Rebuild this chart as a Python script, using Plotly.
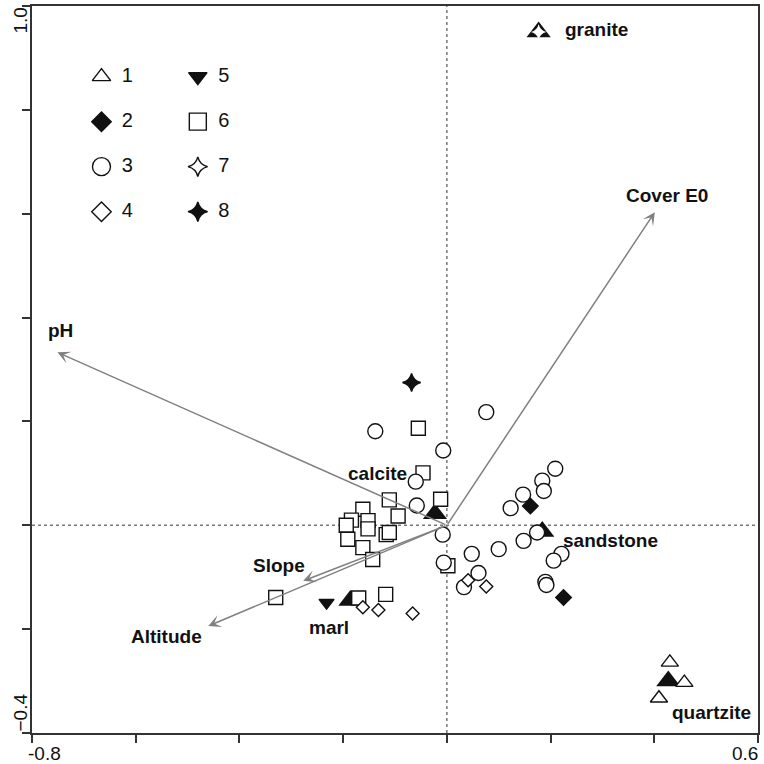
import plotly.graph_objects as go

# ---------------- data ----------------
type_labels = ["1", "2", "3", "4", "5", "6", "7", "8"]

t1_x = [0.430, 0.458, 0.409]
t1_y = [-0.264, -0.303, -0.333]
t2_x = [0.161, 0.225]
t2_y = [0.037, -0.139]
t3_x = [0.076, -0.138, -0.007, -0.060, -0.058, -0.008, -0.006, 0.209, 0.184, 0.187, 0.147,
        0.123, 0.174, 0.148, 0.100, 0.048, 0.221, 0.206, 0.061, 0.033, 0.190, 0.192]
t3_y = [0.218, 0.181, 0.144, 0.084, 0.038, -0.018, -0.072, 0.109, 0.086, 0.066, 0.059,
        0.033, -0.014, -0.030, -0.046, -0.055, -0.055, -0.068, -0.092, -0.119, -0.109, -0.115]
t4_x = [-0.162, -0.132, -0.066, 0.041, 0.076]
t4_y = [-0.158, -0.163, -0.170, -0.106, -0.118]
t5_x = [-0.232]
t5_y = [-0.149]
t6_x = [-0.055, -0.046, -0.012, -0.111, -0.094, -0.162, -0.184, -0.194, -0.152, -0.152,
        -0.117, -0.111, -0.191, -0.162, -0.143, 0.002, -0.330, -0.170, -0.118]
t6_y = [0.187, 0.101, 0.050, 0.049, 0.018, 0.031, 0.010, 0.000, 0.009, -0.007,
        -0.018, -0.014, -0.027, -0.043, -0.066, -0.078, -0.139, -0.140, -0.133]
t7_x = [0.177]
t7_y = [0.950]
t8_x = [-0.068]
t8_y = [0.275]

rock_names = ["calcite", "sandstone", "marl", "quartzite", "granite"]
rock_x = [-0.023, 0.184, -0.186, 0.427, 0.177]
rock_y = [0.022, -0.012, -0.145, -0.300, 0.950]

env_names = ["pH", "Cover E0", "Slope", "Altitude"]
env_x = [-0.751, 0.401, -0.277, -0.460]
env_y = [0.333, 0.603, -0.107, -0.194]

x_ticks = [-0.8, -0.6, -0.4, -0.2, 0.0, 0.2, 0.4, 0.6]
x_tick_text = ["-0.8", "", "", "", "", "", "", "0.6"]
y_ticks = [-0.4, -0.2, 0.0, 0.2, 0.4, 0.6, 0.8, 1.0]
y_tick_text = ["\u22120.4", "", "", "", "", "", "", "1.0"]

# ---------------- styles ----------------
INK = "#111111"
ARROW = "#808080"
NARROW = "Liberation Sans Narrow, Arial Narrow, Liberation Sans, Arial, sans-serif"
BOLD = "Liberation Sans, Arial, sans-serif"

env_dx = [3, 12, -24, -42]
env_dy = [22, 17, 15, -10]
rock_dx = [-57, 68, -21, 43, 58]
rock_dy = [40, -9, -27, -31, 2]

fig = go.Figure()

# centroids (big black triangles)
fig.add_trace(go.Scatter(x=rock_x, y=rock_y, mode="markers",
                         marker=dict(symbol="triangle-up", size=21, color=INK, opacity=1,
                                     line=dict(width=0)), hoverinfo="skip"))

def pts(x, y, symbol, size, fill):
    fig.add_trace(go.Scatter(x=x, y=y, mode="markers",
                             marker=dict(symbol=symbol, size=size, color=fill, opacity=1,
                                         line=dict(color=INK, width=1.4)),
                             hoverinfo="skip"))

pts(t6_x, t6_y, "square", 14, "white")
pts(t3_x, t3_y, "circle", 15, "white")
pts(t4_x, t4_y, "diamond", 10, "white")
pts(t2_x, t2_y, "diamond", 12, INK)
pts(t5_x, t5_y, "triangle-down", 13, INK)
pts(t1_x, t1_y, "triangle-up", 15, "white")
pts(t8_x, t8_y, "star-diamond", 13, INK)
fig.add_trace(go.Scatter(x=t7_x, y=t7_y, mode="markers",
                         marker=dict(symbol="star-diamond", size=11, color="white", opacity=1,
                                     line=dict(width=0)), hoverinfo="skip"))

# legend drawn on an overlay axis (fractions of plot area)
leg_sym = ["triangle-up", "diamond", "circle", "diamond",
           "triangle-down", "square", "star-diamond", "star-diamond"]
leg_fill = ["white", INK, "white", "white", INK, "white", "white", INK]
leg_size = [16, 15, 18, 15, 16, 17, 14, 14]
col_x = [0.0957, 0.2284]
row_y = [0.9028, 0.8409, 0.7790, 0.7171]
lx = [col_x[i // 4] for i in range(8)]
ly = [row_y[i % 4] for i in range(8)]
fig.add_trace(go.Scatter(x=lx, y=ly, xaxis="x2", yaxis="y2", mode="markers",
                         marker=dict(symbol=leg_sym, size=leg_size, color=leg_fill, opacity=1,
                                     line=dict(color=INK, width=1.4)),
                         hoverinfo="skip"))
fig.add_trace(go.Scatter(x=[v + 0.028 for v in lx], y=ly, xaxis="x2", yaxis="y2",
                         mode="text", text=type_labels, textposition="middle right",
                         textfont=dict(family=NARROW, size=20, color=INK),
                         hoverinfo="skip"))

annotations = []
# environmental arrows
for i in range(len(env_names)):
    annotations.append(dict(x=env_x[i], y=env_y[i], ax=0, ay=0, xref="x", yref="y",
                            axref="x", ayref="y", text="", showarrow=True,
                            arrowhead=3, arrowsize=1.4, arrowwidth=1.5,
                            arrowcolor=ARROW, standoff=0, startstandoff=0))
    annotations.append(dict(x=env_x[i], y=env_y[i], xref="x", yref="y", text=env_names[i],
                            showarrow=False, xshift=env_dx[i], yshift=env_dy[i],
                            font=dict(family=BOLD, size=19, color=INK, weight="bold")))
# rock labels
for i in range(len(rock_names)):
    annotations.append(dict(x=rock_x[i], y=rock_y[i], xref="x", yref="y", text=rock_names[i],
                            showarrow=False, xshift=rock_dx[i], yshift=rock_dy[i],
                            font=dict(family=BOLD, size=19, color=INK, weight="bold")))
# end tick labels
for v, t in zip(x_ticks, x_tick_text):
    if t:
        annotations.append(dict(x=v, y=0, xref="x", yref="paper", text=t, showarrow=False,
                                xanchor="left" if v < 0 else "right", yanchor="top",
                                xshift=-6 if v < 0 else 2, yshift=-8,
                                font=dict(family=NARROW, size=19, color=INK)))
for v, t in zip(y_ticks, y_tick_text):
    if t:
        annotations.append(dict(x=0, y=v, xref="paper", yref="y", text=t, showarrow=False,
                                textangle=-90, xanchor="right", xshift=0,
                                yanchor="bottom" if v < 0 else "top",
                                yshift=-1 if v < 0 else 0,
                                font=dict(family=NARROW, size=19, color=INK)))

shapes = [
    dict(type="line", xref="x", yref="paper", x0=0, x1=0, y0=0, y1=1,
         line=dict(color="#777777", width=1.5, dash="dot"), layer="below"),
    dict(type="line", xref="paper", yref="y", x0=0, x1=1, y0=0, y1=0,
         line=dict(color="#777777", width=1.5, dash="dot"), layer="below"),
]

axis_common = dict(showgrid=False, zeroline=False, showline=True, linecolor="#333333",
                   linewidth=1.5, mirror=True, ticks="outside", ticklen=8, tickwidth=1.5,
                   tickcolor="#333333", showticklabels=False, fixedrange=True)

fig.update_layout(
    width=764, height=764,
    margin=dict(l=32, r=4, t=6, b=31),
    paper_bgcolor="white", plot_bgcolor="white",
    showlegend=False,
    hovermode=False,
    xaxis=dict(range=[-0.8, 0.6], tickvals=x_ticks, ticktext=x_tick_text, **axis_common),
    yaxis=dict(range=[-0.4, 1.0], tickvals=y_ticks, ticktext=y_tick_text, **axis_common),
    xaxis2=dict(overlaying="x", range=[0, 1], visible=False, fixedrange=True),
    yaxis2=dict(overlaying="y", range=[0, 1], visible=False, fixedrange=True),
    annotations=annotations,
    shapes=shapes,
)

fig.write_html("out.html",
               config={"displayModeBar": False},
               post_script="document.body.style.margin='0px';"
                           "document.body.style.overflow='hidden';")
